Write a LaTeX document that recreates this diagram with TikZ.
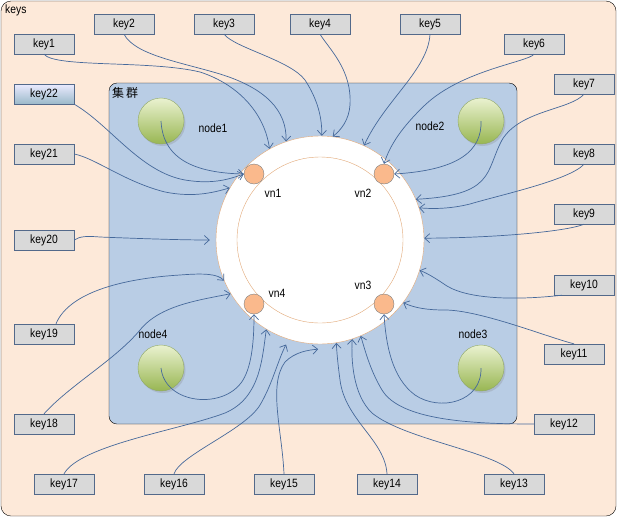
\documentclass[tikz,border=0pt]{standalone}
\usepackage{fontspec}
\setmainfont{Liberation Sans}[FakeStretch=0.86]
\newfontfamily\cjk{Noto Sans CJK SC}
\usetikzlibrary{arrows.meta,shadows}
\definecolor{peach}{HTML}{FDE9D9}
\definecolor{clusterblue}{HTML}{B9CDE5}
\definecolor{keygray}{HTML}{D9D9D9}
\definecolor{keyline}{HTML}{53698A}
\definecolor{linkblue}{HTML}{46699B}
\definecolor{vnorange}{HTML}{FAB98C}
\definecolor{ringtan}{HTML}{E2A877}
\definecolor{greentop}{HTML}{EAF2D0}
\definecolor{greenbot}{HTML}{98B652}
\definecolor{greenline}{HTML}{8FA767}
\begin{document}
\begin{tikzpicture}[x=1pt,y=-1pt,font=\fontsize{12}{14}\selectfont,
  keybox/.style={draw=keyline,fill=keygray,minimum width=60pt,minimum height=20pt,inner sep=0pt},
  vnode/.style={circle,draw=gray,fill=vnorange,minimum size=20pt,inner sep=0pt},
  server/.style={circle,draw=greenline,top color=greentop,bottom color=greenbot,minimum size=46pt,inner sep=0pt,
    drop shadow={opacity=0.25,shadow xshift=1.5pt,shadow yshift=-2pt}},
  link/.style={draw=linkblue,line width=0.7pt,-{Straight Barb[length=5pt,width=9pt]}}]
\useasboundingbox (0,0) rectangle (621,520);
\draw[fill=peach,rounded corners=10pt] (1,1) rectangle (616,516);
\node[anchor=base west,inner sep=0pt] (keys) at (5,13) {keys};
\draw[fill=clusterblue,rounded corners=8pt] (109,83) rectangle (517,424);
\node[anchor=base west,inner sep=0pt] (cluster) at (112,97) {\cjk\fontsize{12}{13}\selectfont 集\,群};
% hash ring
\node[circle,draw=ringtan,fill=white,minimum size=208pt,inner sep=0pt] (ring) at (320,240) {};
\node[circle,draw=ringtan,minimum size=166pt,inner sep=0pt] (inner) at (ring.center) {};
\node[vnode] (vn1) at (254,174) {};
\node[vnode] (vn2) at (384,174) {};
\node[vnode] (vn3) at (384,304) {};
\node[vnode] (vn4) at (254,304) {};
\node (vn1lbl) at (273,193) {vn1};
\node (vn2lbl) at (363,193) {vn2};
\node (vn3lbl) at (363,285) {vn3};
\node (vn4lbl) at (277,293) {vn4};
% servers
\node[server] (n1) at (161,121) {};
\node[server] (n2) at (481,121) {};
\node[server] (n3) at (481,368) {};
\node[server] (n4) at (161,368) {};
\node (n1lbl) at (213,128) {node1};
\node (n2lbl) at (430,126) {node2};
\node (n3lbl) at (473,334) {node3};
\node (n4lbl) at (153,334) {node4};
% keys
\node[keybox] (key1) at (44,44) {key1};
\node[keybox] (key2) at (124,24) {key2};
\node[keybox] (key3) at (224,24) {key3};
\node[keybox] (key4) at (320,24) {key4};
\node[keybox] (key5) at (430,24) {key5};
\node[keybox] (key6) at (534,44) {key6};
\node[keybox] (key7) at (584,84) {key7};
\node[keybox] (key8) at (584,154) {key8};
\node[keybox] (key9) at (584,214) {key9};
\node[keybox] (key10) at (584,285) {key10};
\node[keybox] (key11) at (574,354) {key11};
\node[keybox] (key12) at (564,424) {key12};
\node[keybox] (key13) at (514,484) {key13};
\node[keybox] (key14) at (387,484) {key14};
\node[keybox] (key15) at (284,484) {key15};
\node[keybox] (key16) at (174,484) {key16};
\node[keybox] (key17) at (64,484) {key17};
\node[keybox] (key18) at (44,424) {key18};
\node[keybox] (key19) at (44,334) {key19};
\node[keybox] (key20) at (44,240) {key20};
\node[keybox] (key21) at (44,154) {key21};
\node[keybox,top color=blue!8!white,bottom color=blue!35!cyan!30!gray!60] (key22) at (44,94) {key22};
% server to virtual node
\draw[link] (n1.center) .. controls (163,162) and (200,173) .. (vn1.west);
\draw[link] (n2.center) .. controls (482,150) and (460,170) .. (vn2.east);
\draw[link] (n3.center) .. controls (482,402) and (440,412) .. (415,395) .. controls (392,378) and (386,345) .. (vn3.south);
\draw[link] (n4.center) .. controls (165,405) and (225,410) .. (243,380) .. controls (252,365) and (254,340) .. (vn4.south);
% keys to ring
\draw[link] (key1.south) .. controls (55,68) and (150,60) .. (200,72) .. controls (240,85) and (265,115) .. (ring.119);
\draw[link] (key2.south) .. controls (135,55) and (180,62) .. (220,74) .. controls (265,88) and (287,110) .. (ring.109);
\draw[link] (key3.south) .. controls (235,48) and (290,60) .. (305,80) .. controls (318,100) and (322,118) .. (ring.89);
\draw[link] (key4.south) .. controls (330,50) and (352,70) .. (350,105) .. controls (349,120) and (341,130) .. (ring.83);
\draw[link] (key5.south) .. controls (428,70) and (385,100) .. (ring.65);
\draw[link] (key6.south) .. controls (528,62) and (462,70) .. (425,105) .. controls (402,127) and (390,145) .. (vn2.north);
\draw[link] (key7.south) .. controls (570,110) and (520,110) .. (502,140) .. controls (485,172) and (495,195) .. (ring.23);
\draw[link] (key8.south) .. controls (570,180) and (500,195) .. (470,204) .. controls (450,209) and (432,209) .. (ring.18);
\draw[link] (key9.south) .. controls (565,232) and (490,238) .. (ring.1);
\draw[link] ([xshift=-22pt]key10.south) .. controls (520,300) and (470,300) .. (447,286) .. controls (435,278) and (427,273) .. (ring.-17);
\draw[link] (key11.north) .. controls (550,338) and (480,310) .. (445,310) .. controls (427,310) and (415,308) .. (ring.-37);
\draw[link] (key12.west) .. controls (470,424) and (400,420) .. (382,390) .. controls (370,370) and (365,350) .. (ring.-67);
\draw[link] (key13.north) .. controls (498,452) and (405,440) .. (372,413) .. controls (353,395) and (351,360) .. (ring.-72);
\draw[link] (key14.north) .. controls (385,440) and (345,420) .. (340,380) .. controls (338,365) and (337,355) .. (ring.-81);
\draw[link] (key15.north) .. controls (282,430) and (268,385) .. (285,362) .. controls (295,352) and (308,350) .. ([yshift=-5pt]ring.-91);
\draw[link] (key16.north) .. controls (180,455) and (245,430) .. (260,405) .. controls (272,385) and (278,360) .. ([yshift=-6pt]ring.-109);
\draw[link] (key17.north) .. controls (80,445) and (180,430) .. (225,413) .. controls (260,398) and (262,360) .. (ring.-121);
\draw[link] (key18.north) .. controls (70,385) and (115,360) .. (140,330) .. controls (160,305) and (200,300) .. (ring.-149);
\draw[link] ([xshift=12pt]key19.north) .. controls (70,290) and (130,278) .. (180,275) .. controls (205,273) and (218,274) .. (ring.-157);
\draw[link] (key20.east) .. controls (80,236) and (88,236) .. (100,237) .. controls (150,239) and (185,240) .. ([xshift=-6pt]ring.180);
\draw[link] (key21.east) .. controls (95,158) and (125,182) .. (165,192) .. controls (195,198) and (215,192) .. (ring.150);
\draw[link] (key22.south east) .. controls (110,125) and (140,172) .. (185,180) .. controls (215,185) and (232,178) .. (vn1.west);
\end{tikzpicture}
\end{document}
